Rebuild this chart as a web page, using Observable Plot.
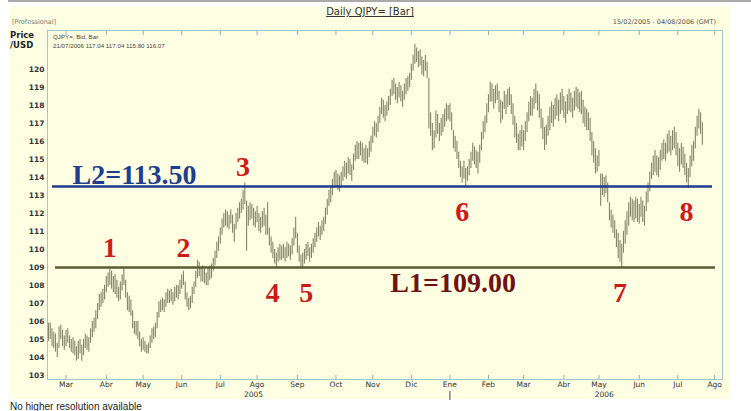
<!DOCTYPE html>
<html>
<head>
<meta charset="utf-8">
<script src="https://cdn.jsdelivr.net/npm/d3@7"></script>
<script src="https://cdn.jsdelivr.net/npm/@observablehq/plot@0.6"></script>
<style>
  html, body { margin: 0; padding: 0; background: #fff; }
  #page { position: relative; width: 751px; height: 411px; overflow: hidden; font-family: "DejaVu Sans", sans-serif; }
  #topline { position: absolute; left: 8px; top: 0; width: 743px; height: 2px; background: #a9a9a9; }
  #panel { position: absolute; left: 10px; top: 6px; width: 720px; height: 393px; background: #fefee3; }
  #chart { position: absolute; left: 0; top: 0; }
  .t { position: absolute; white-space: nowrap; color: #333; }
  #title { left: 370px; top: 6px; transform: translateX(-50%); font-size: 10px; text-decoration: underline; color: #333; }
  #edition { left: 12px; top: 18px; font-size: 6.5px; color: #777; }
  #range { right: 35px; top: 18px; font-size: 6.5px; color: #555; }
  #unit { left: 10px; top: 30px; font-size: 8.5px; font-weight: bold; line-height: 10px; color: #222; }
  #series { left: 53px; top: 33px; font-size: 6.2px; line-height: 8.5px; color: #444; font-family: "Liberation Sans", sans-serif; }
  #note { left: 10px; top: 401px; font-size: 10px; font-family: "Liberation Sans", sans-serif; color: #222; }
</style>
</head>
<body>
<div id="page">
  <div id="topline"></div>
  <div id="panel"></div>
  <div id="chart"></div>
  <div class="t" id="title">Daily QJPY= [Bar]</div>
  <div class="t" id="edition">[Professional]</div>
  <div class="t" id="range">15/02/2005 - 04/08/2006 (GMT)</div>
  <div class="t" id="unit">Price<br>/USD</div>
  <div class="t" id="series">QJPY=, Bid, Bar<br>21/07/2006 117.04 117.04 115.80 116.07</div>
  <div class="t" id="note">No higher resolution available</div>
</div>
<script>
// Daily QJPY= bid bars, one entry per trading day from 15/02/2005 to 21/07/2006.
const high = [
  105.9,105.9,105.6,105.4,105.3,104.8,105.7,105.8,105.5,105.2,
  105.5,105.6,105.2,105.0,105.1,104.9,104.6,104.9,105.0,104.7,
  105.0,105.3,105.2,105.1,105.6,106.0,106.2,106.6,107.0,107.5,
  107.6,107.8,108.0,108.5,108.7,108.9,108.8,108.5,108.6,108.3,
  107.9,108.2,108.6,109.0,108.3,107.6,107.4,107.2,106.6,106.0,
  106.0,106.0,105.4,105.0,105.1,104.9,104.7,104.8,105.2,105.6,
  105.7,105.9,106.5,107.1,107.2,107.3,107.2,107.6,107.8,107.7,
  107.8,107.6,107.9,108.0,108.0,108.3,108.6,108.8,108.2,107.6,
  107.3,107.4,107.9,108.2,108.8,109.4,109.3,109.0,109.1,108.9,
  108.7,109.0,109.1,109.2,109.5,109.9,110.4,110.7,111.2,111.7,
  112.0,112.2,112.1,111.9,112.2,111.9,111.4,112.0,112.3,112.6,
  112.8,113.3,113.7,112.7,112.4,112.6,112.5,112.3,112.1,112.4,
  112.0,111.8,112.1,112.3,111.9,112.6,111.2,110.7,110.4,110.0,
  109.8,110.1,110.3,110.2,110.3,110.1,110.4,110.3,110.2,110.6,
  111.2,111.8,110.9,110.2,109.7,109.8,110.0,110.3,110.4,110.1,
  110.3,110.6,110.9,111.2,111.5,111.3,111.6,111.8,112.3,112.8,
  113.3,113.5,113.9,114.3,114.4,114.2,114.1,114.3,114.6,114.9,
  114.8,115.1,115.0,114.7,115.3,115.8,116.0,115.9,116.0,115.9,
  115.6,115.8,115.6,116.0,116.3,116.8,117.1,117.0,117.4,117.9,
  118.4,118.3,118.0,118.2,118.5,118.9,119.4,119.5,119.2,119.0,
  119.3,119.1,118.8,119.2,119.5,119.6,119.8,120.3,120.8,121.4,
  121.2,121.0,121.1,120.7,120.5,120.8,120.4,119.5,117.6,117.0,
  116.6,117.7,117.5,117.0,117.3,117.5,117.8,118.1,118.0,118.1,
  117.6,116.6,116.3,116.0,115.4,114.9,114.6,114.9,114.5,114.6,
  115.0,115.4,115.9,115.7,115.5,115.4,115.8,116.5,117.1,117.4,
  118.1,118.6,119.3,119.2,118.9,119.1,119.2,118.8,118.3,118.2,
  118.8,118.6,118.9,119.0,118.6,118.1,117.4,117.0,116.4,116.6,
  116.9,116.6,117.1,117.6,118.2,118.5,118.4,118.9,119.2,118.8,
  118.6,117.8,117.3,116.8,116.9,117.4,117.9,118.2,118.0,118.4,
  118.6,118.3,118.7,118.9,118.5,118.2,118.6,118.9,118.7,118.4,
  118.8,119.0,118.9,118.7,118.8,118.3,117.9,117.8,117.6,117.3,
  116.5,116.0,115.6,115.2,115.5,114.2,114.2,114.0,114.1,113.7,
  112.6,112.2,111.9,111.6,111.1,110.9,110.5,110.3,111.0,111.6,
  112.1,112.6,112.9,112.8,112.7,112.9,112.8,112.5,112.9,112.7,
  112.4,113.2,113.7,114.3,114.8,115.2,115.5,115.2,115.1,115.5,
  115.9,116.1,115.9,116.4,116.6,116.3,116.6,116.8,116.5,115.9,
  115.6,115.9,115.7,115.3,114.8,114.5,115.2,115.8,116.0,116.8,
  117.4,117.8,117.6,117.04
];
const low = [
  104.9,105.0,104.6,104.5,104.3,104.0,104.5,105.0,104.6,104.4,
  104.6,104.8,104.5,104.3,104.2,104.1,103.8,103.9,104.2,103.8,
  104.1,104.5,104.4,104.3,104.8,105.1,105.4,105.6,106.1,106.6,
  106.8,107.0,107.2,107.6,107.9,108.0,107.8,107.6,107.5,107.3,
  107.1,107.2,107.7,108.0,107.3,106.6,106.5,106.3,105.6,105.3,
  105.2,105.0,104.6,104.3,104.4,104.3,104.2,104.2,104.5,104.8,
  105.0,105.1,105.6,106.2,106.5,106.6,106.5,106.8,107.0,107.0,
  107.1,106.9,107.1,107.3,107.2,107.5,107.8,108.0,107.2,106.8,
  106.6,106.7,107.0,107.5,107.9,108.4,108.5,108.2,108.2,108.1,
  108.0,108.0,108.3,108.4,108.8,109.1,109.5,109.9,110.3,110.8,
  111.2,111.3,111.2,111.1,111.4,110.9,110.4,111.1,111.5,111.7,
  112.0,112.2,112.5,109.9,111.3,111.6,111.7,111.3,111.2,111.5,
  111.0,110.9,111.2,111.3,110.8,110.8,110.2,109.8,109.5,109.2,
  109.0,109.3,109.4,109.4,109.5,109.3,109.5,109.6,109.4,109.7,
  110.2,110.6,109.8,109.3,108.9,109.0,109.2,109.4,109.6,109.3,
  109.5,109.8,110.1,110.4,110.7,110.5,110.8,111.0,111.4,111.9,
  112.4,112.6,113.0,113.4,113.5,113.3,113.2,113.4,113.8,114.0,
  113.9,114.2,114.1,113.8,114.4,114.9,115.0,115.0,115.2,114.9,
  114.8,114.8,114.7,115.1,115.4,115.9,116.3,116.2,116.5,117.0,
  117.5,117.3,117.1,117.4,117.7,118.0,118.5,118.6,118.3,118.1,
  118.4,118.2,117.9,118.3,118.6,118.8,119.0,119.4,119.9,120.3,
  120.4,120.1,120.2,119.7,119.6,119.9,119.5,116.7,116.3,115.5,
  115.6,116.2,116.4,116.0,116.3,116.5,116.8,117.1,117.2,117.1,
  116.6,115.6,115.4,115.0,114.5,114.0,113.7,113.9,113.5,113.8,
  114.1,114.5,114.9,114.7,114.5,114.2,114.8,115.5,116.1,116.5,
  117.0,117.6,118.2,118.2,117.8,118.1,118.3,117.6,117.0,117.2,
  117.8,117.5,117.9,118.0,117.5,116.9,116.2,115.9,115.5,115.5,
  115.7,115.5,116.0,116.5,117.1,117.4,117.4,117.8,118.1,117.7,
  117.3,116.7,116.1,115.5,115.8,116.3,116.6,117.0,116.8,117.2,
  117.4,117.1,117.5,117.7,117.3,117.0,117.5,117.7,117.6,117.3,
  117.7,117.9,117.8,117.6,117.5,117.0,116.8,116.6,116.6,116.0,
  115.2,114.8,114.2,114.3,114.6,112.4,113.0,112.9,113.1,112.6,
  111.6,111.2,110.9,110.6,110.1,109.5,109.3,109.0,109.8,110.3,
  110.8,111.3,111.8,111.6,111.5,111.7,111.5,111.4,111.8,111.5,
  111.3,112.1,112.6,113.2,113.9,114.1,114.3,114.1,114.0,114.4,
  114.9,115.0,114.9,115.3,115.4,115.2,115.5,115.6,115.2,114.6,
  114.3,114.7,114.5,114.1,113.7,113.4,114.0,114.6,114.9,115.6,
  116.3,116.7,116.4,115.80
];

// Axis ticks: first trading day of each month, year captions and the year break.
const monthTickDays = [10, 33, 54, 76, 98, 119, 142, 164, 185, 207, 229, 251, 271, 294, 314, 337, 359, 380];
const monthTickLabels = ["Mar", "Abr", "May", "Jun", "Jul", "Ago", "Sep", "Oct", "Nov", "Dic", "Ene", "Feb", "Mar", "Abr", "May", "Jun", "Jul", "Ago"];
const yearTickDays = [117, 317];
const yearTickLabels = ["2005", "2006"];
const yearBreakDays = [229];
const priceTicks = [103, 104, 105, 106, 107, 108, 109, 110, 111, 112, 113, 114, 115, 116, 117, 118, 119, 120];

// Support / resistance levels
const levelL1 = 109.00;
const levelL2 = 113.50;

// Numbered turning points and the level each one tests
const pivotLabels = ["1", "2", "3", "4", "5", "6", "7", "8"];
const pivotDays = [35, 77, 111, 128, 147, 236, 326, 364];
const pivotLevels = [109, 109, 113.5, 109, 109, 113.5, 109, 113.5];
const pivotAbove = [true, true, true, false, false, false, false, false];

const days = d3.range(high.length);
const monthName = new Map(monthTickDays.map((d, i) => [d, monthTickLabels[i]]));
const yearName = new Map(yearTickDays.map((d, i) => [d, yearTickLabels[i]]));
const pivots = pivotLabels.map((label, i) => ({label, day: pivotDays[i], level: pivotLevels[i], above: pivotAbove[i]}));

const serif = "'Liberation Serif', 'Times New Roman', serif";
const frameColor = "#9fc8c5";

const chart = Plot.plot({
  width: 751,
  height: 411,
  marginLeft: 47,
  marginRight: 29,
  marginTop: 30,
  marginBottom: 32,
  style: {background: "transparent", fontFamily: "'DejaVu Sans', sans-serif", overflow: "visible"},
  x: {domain: [-0.57, 384.5], axis: null, label: null},
  y: {domain: [102.78, 122.17], axis: null, label: null},
  marks: [
    Plot.frame({stroke: frameColor}),
    Plot.axisY({ticks: priceTicks, label: null, tickSize: 0, tickPadding: 3, fontSize: 7.5, fontWeight: "bold", fill: "#333"}),
    Plot.axisX({anchor: "bottom", ticks: monthTickDays, label: null, tickSize: -4, tickFormat: () => "", stroke: "#88b3b0"}),
    Plot.axisX({anchor: "top", ticks: monthTickDays, label: null, tickSize: -4, tickFormat: () => "", stroke: "#88b3b0"}),
    Plot.axisX({anchor: "bottom", ticks: monthTickDays, label: null, tickSize: 0, tickPadding: 2, tickFormat: d => monthName.get(d), fontSize: 7.5, fill: "#333"}),
    Plot.axisX({anchor: "bottom", ticks: yearTickDays, label: null, tickSize: 0, tickPadding: 12, tickFormat: d => yearName.get(d), fontSize: 7.5, fill: "#333"}),
    Plot.axisX({anchor: "bottom", ticks: yearBreakDays, label: null, tickSize: 9, dy: 12, tickFormat: () => "", stroke: "#444"}),
    // daily high-low bars
    Plot.ruleX(days, {x: d => d, y1: d => low[d], y2: d => high[d], stroke: "#85856a", strokeWidth: 1.1}),
    // levels
    Plot.ruleY([levelL2], {x1: 2.3, x2: 378.8, stroke: "#1e3d8f", strokeWidth: 2.6}),
    Plot.ruleY([levelL1], {x1: 4, x2: 380.5, stroke: "#5b5933", strokeWidth: 2.6}),
    Plot.text([levelL2], {x: 13.7, y: d => d, text: d => `L2=${d.toFixed(2)}`, textAnchor: "start", lineAnchor: "bottom", dy: -3,
      fontFamily: serif, fontWeight: "bold", fontSize: 28, fill: "#1e3d8f"}),
    Plot.text([levelL1], {x: 195, y: d => d, text: d => `L1=${d.toFixed(2)}`, textAnchor: "start", lineAnchor: "bottom", dy: 24,
      fontFamily: serif, fontWeight: "bold", fontSize: 28, fill: "#6e1212"}),
    // turning point numbers
    Plot.text(pivots.filter(p => p.above), {x: "day", y: "level", text: "label", lineAnchor: "bottom", dy: -11,
      fontFamily: serif, fontWeight: "bold", fontSize: 28, fill: "#cc1b1b"}),
    Plot.text(pivots.filter(p => !p.above), {x: "day", y: "level", text: "label", lineAnchor: "bottom", dy: 34,
      fontFamily: serif, fontWeight: "bold", fontSize: 28, fill: "#cc1b1b"})
  ]
});
document.getElementById("chart").append(chart);
</script>
</body>
</html>
